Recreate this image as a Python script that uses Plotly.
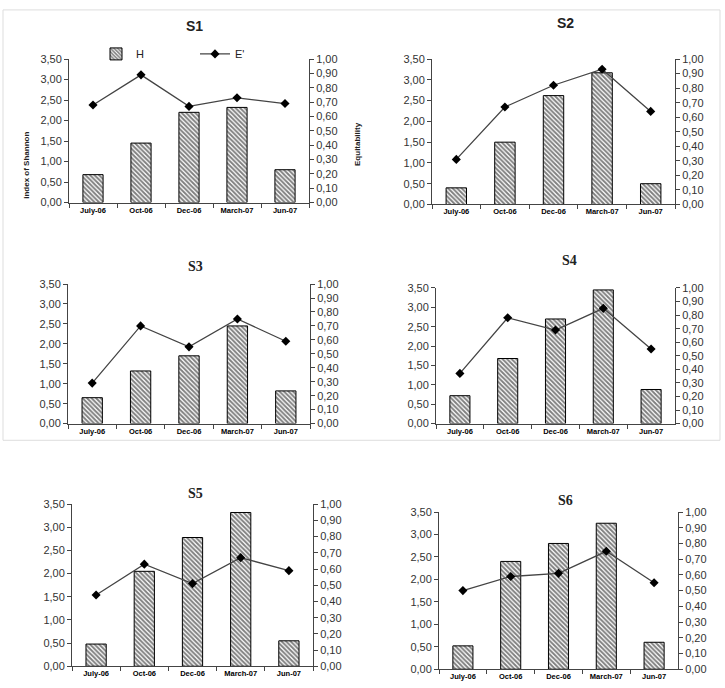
import plotly.graph_objects as go

categories = ["July-06", "Oct-06", "Dec-06", "March-07", "Jun-07"]
panel_names = ["S1", "S2", "S3", "S4", "S5", "S6"]

h_s1 = [0.68, 1.45, 2.20, 2.32, 0.80]
e_s1 = [0.68, 0.89, 0.67, 0.73, 0.69]
h_s2 = [0.40, 1.50, 2.62, 3.17, 0.50]
e_s2 = [0.31, 0.67, 0.82, 0.93, 0.64]
h_s3 = [0.65, 1.32, 1.70, 2.45, 0.82]
e_s3 = [0.29, 0.70, 0.55, 0.75, 0.59]
h_s4 = [0.72, 1.68, 2.70, 3.45, 0.88]
e_s4 = [0.37, 0.78, 0.69, 0.85, 0.55]
h_s5 = [0.48, 2.05, 2.78, 3.32, 0.55]
e_s5 = [0.44, 0.63, 0.51, 0.67, 0.59]
h_s6 = [0.52, 2.40, 2.80, 3.25, 0.60]
e_s6 = [0.50, 0.59, 0.61, 0.75, 0.55]

h_tick_vals = [0, 0.5, 1.0, 1.5, 2.0, 2.5, 3.0, 3.5]
e_tick_vals = [0, 0.1, 0.2, 0.3, 0.4, 0.5, 0.6, 0.7, 0.8, 0.9, 1.0]

H = [h_s1, h_s2, h_s3, h_s4, h_s5, h_s6]
E = [e_s1, e_s2, e_s3, e_s4, e_s5, e_s6]

W, HT = 725, 688
# pixel boxes: (left, right, top, bottom)
boxes = [
    (69, 309, 54, 200),
    (432, 675, 54, 202),
    (68, 310, 283, 425),
    (436, 675, 287, 425),
    (72, 313, 507, 672),
    (439, 678, 515, 675),
]
title_pos = [(194, 20), (565, 17), (195, 265), (569, 259), (195, 496), (565, 503)]
title_fonts = ["Liberation Sans", "Liberation Sans", "Liberation Serif",
               "Liberation Serif", "Liberation Serif", "Liberation Serif"]

fig = go.Figure()
layout = {}
annotations = []
axcol = "#444"
tickfont = dict(family="Liberation Sans", size=11, color="#333")

for i in range(6):
    xa = f"x{i+1}"
    yl = f"y{2*i+1}"
    yr = f"y{2*i+2}"
    l, r, t, b = boxes[i]
    xdom = [l / W, r / W]
    ydom = [1 - b / HT, 1 - t / HT]
    fig.add_trace(go.Bar(
        x=categories, y=H[i], xaxis=xa, yaxis=yl, name="H",
        showlegend=(i == 0), legendrank=1,
        marker=dict(color="white", line=dict(color="black", width=1),
                    pattern=dict(shape="\\", fgcolor="black", bgcolor="white",
                                 size=3.2, solidity=0.6)),
    ))
    fig.add_trace(go.Scatter(
        x=categories, y=E[i], xaxis=xa, yaxis=yr, name="E'",
        showlegend=(i == 0), legendrank=2, mode="lines+markers",
        line=dict(color="#444", width=1.3),
        marker=dict(symbol="diamond", size=7, color="black"),
    ))
    layout[f"xaxis{i+1}"] = dict(
        domain=xdom, anchor=yl, type="category", showline=True, linecolor=axcol,
        linewidth=1, ticks="outside", tickson="boundaries", ticklen=4,
        tickcolor=axcol, showgrid=False, zeroline=False,
        tickfont=dict(family="Liberation Sans", size=7.5, color="#000000", weight="bold"),
        tickangle=0,
    )
    layout[f"yaxis{2*i+1}"] = dict(
        domain=ydom, anchor=xa, range=[0, 3.5], tickvals=h_tick_vals,
        tickformat=".2f", showline=True, linecolor=axcol, linewidth=1,
        ticks="outside", ticklen=4, tickcolor=axcol, showgrid=False,
        zeroline=False, tickfont=tickfont,
    )
    layout[f"yaxis{2*i+2}"] = dict(
        domain=ydom, anchor=xa, overlaying=yl, side="right", range=[0, 1.0],
        tickvals=e_tick_vals, tickformat=".2f", showline=True, linecolor=axcol,
        linewidth=1, ticks="outside", ticklen=4, tickcolor=axcol,
        showgrid=False, zeroline=False, tickfont=tickfont,
    )
    tx, ty = title_pos[i]
    annotations.append(dict(
        text=f"<b>{panel_names[i]}</b>", x=tx / W, y=1 - ty / HT,
        xref="paper", yref="paper", showarrow=False, xanchor="center",
        yanchor="middle", font=dict(family=title_fonts[i], size=14, color="#222"),
    ))

annotations.append(dict(
    text="<b>index of Shannon</b>", x=20 / W, y=1 - 126 / HT, xref="paper",
    yref="paper", showarrow=False, textangle=-90,
    font=dict(family="Liberation Sans", size=8, color="#222"),
))
annotations.append(dict(
    text="<b>Equitability</b>", x=358 / W, y=1 - 116 / HT, xref="paper",
    yref="paper", showarrow=False, textangle=-90,
    font=dict(family="Liberation Sans", size=8, color="#222"),
))

fig.update_layout(
    **layout,
    width=W, height=HT,
    margin=dict(l=0, r=0, t=0, b=0),
    paper_bgcolor="white", plot_bgcolor="white",
    separators=",.",
    barmode="group", bargap=0.58,
    showlegend=True,
    legend=dict(orientation="h", x=96 / W, y=1 - 34 / HT, xanchor="left",
                yanchor="top", entrywidth=54, font=dict(family="Liberation Sans",
                size=11, color="#222"), bgcolor="rgba(0,0,0,0)",
                tracegroupgap=0),
    annotations=annotations,
    shapes=[dict(type="rect", xref="paper", yref="paper", x0=3 / W, x1=720 / W,
                 y0=1 - 442 / HT, y1=1 - 4 / HT,
                 line=dict(color="#dddddd", width=1))],
)

fig.write_html("out.html")
